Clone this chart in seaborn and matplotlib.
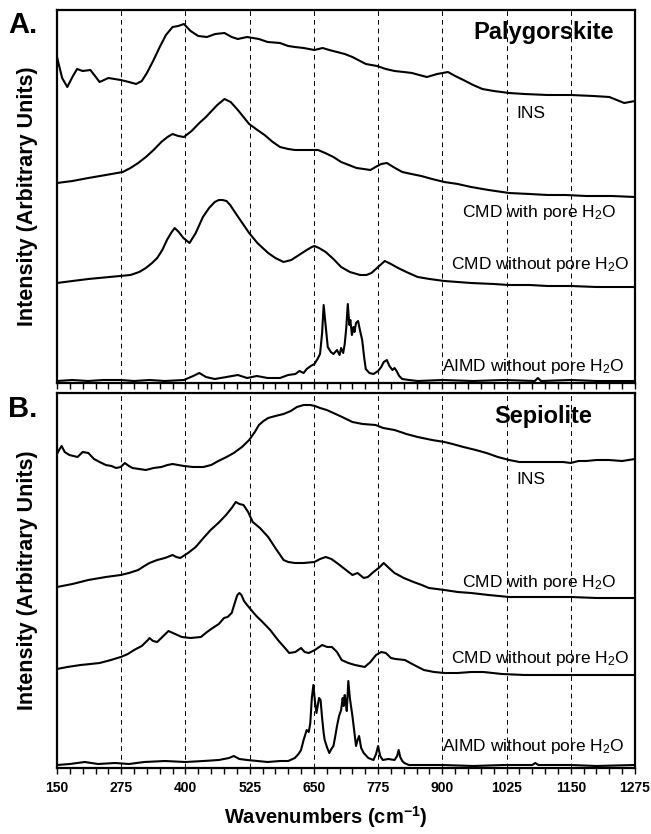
import matplotlib
matplotlib.use("Agg")
import matplotlib.pyplot as plt
import seaborn as sns
import pandas as pd
from matplotlib.ticker import MultipleLocator, FixedLocator

# ---------------- data (wavenumber, arbitrary offset intensity) ----------------
x_ticks = [150, 275, 400, 525, 650, 775, 900, 1025, 1150, 1275]

# Panel A: Palygorskite
pal_ins_x = [150, 160, 170, 180, 189, 200, 215, 233, 250, 274, 290, 304, 315, 325, 338, 350, 362, 375, 386, 397, 410, 425, 442, 458, 476, 490, 502, 520, 543, 560, 584, 600, 613, 630, 651, 667, 680, 695, 710, 725, 740, 751, 773, 790, 807, 825, 841, 855, 870, 890, 911, 925, 941, 960, 978, 1000, 1030, 1060, 1105, 1150, 1194, 1225, 1254, 1275]
pal_ins_y = [326, 305, 296, 306, 314, 312, 313, 301, 305, 303, 301, 299, 302, 310, 323, 336, 348, 356, 357, 359, 352, 347, 346, 349, 350, 346, 344, 346, 344, 341, 340, 337, 336, 335, 333, 335, 333, 331, 329, 326, 322, 319, 317, 314, 312, 311, 310, 308, 306, 309, 311, 307, 303, 298, 294, 292, 290, 289, 288, 288, 287, 286, 280, 282]

pal_cmdw_x = [150, 180, 211, 245, 278, 293, 308, 323, 338, 353, 365, 375, 386, 397, 412, 427, 440, 449, 462, 476, 488, 502, 513, 524, 540, 554, 570, 584, 600, 613, 635, 658, 672, 688, 703, 718, 733, 747, 760, 770, 781, 792, 808, 822, 840, 859, 880, 904, 930, 956, 990, 1030, 1070, 1105, 1140, 1180, 1230, 1275]
pal_cmdw_y = [200, 202, 205, 208, 211, 215, 220, 226, 233, 241, 246, 249, 247, 246, 252, 260, 266, 271, 278, 284, 281, 273, 266, 259, 253, 248, 241, 236, 234, 233, 233, 233, 230, 226, 221, 218, 215, 214, 213, 216, 219, 220, 215, 211, 209, 207, 204, 201, 199, 196, 193, 190, 189, 188, 188, 187, 187, 186]

pal_cmdwo_x = [150, 180, 211, 252, 293, 310, 323, 335, 345, 355, 364, 372, 379, 387, 396, 408, 420, 434, 446, 457, 465, 472, 480, 487, 500, 512, 524, 540, 561, 575, 591, 606, 621, 636, 646, 651, 660, 673, 688, 703, 720, 740, 752, 762, 775, 788, 800, 814, 830, 852, 875, 904, 930, 956, 1000, 1030, 1070, 1105, 1150, 1200, 1275]
pal_cmdwo_y = [100, 102, 104, 106, 108, 111, 115, 120, 125, 133, 143, 150, 155, 151, 145, 140, 150, 166, 175, 181, 183, 183, 182, 178, 168, 159, 150, 140, 130, 125, 121, 123, 128, 133, 136, 137, 135, 131, 124, 116, 111, 108, 108, 110, 116, 122, 119, 115, 111, 106, 104, 102, 101, 100, 99, 98, 98, 97, 97, 96, 96]

pal_aimd_x = [150, 180, 210, 240, 274, 300, 330, 360, 397, 415, 427, 440, 457, 480, 502, 520, 539, 560, 584, 600, 614, 622, 630, 636, 644, 651, 657, 662, 666, 669, 672, 677, 683, 688, 695, 700, 703, 707, 710, 713, 716, 719, 721, 724, 727, 729, 732, 736, 740, 744, 748, 751, 758, 766, 775, 781, 786, 792, 797, 803, 807, 811, 816, 822, 835, 852, 900, 960, 1020, 1080, 1086, 1092, 1150, 1200, 1275]
pal_aimd_y = [2, 3, 2, 3, 3, 2, 3, 2, 3, 7, 10, 6, 4, 6, 8, 5, 7, 5, 5, 8, 9, 12, 10, 14, 17, 19, 24, 29, 50, 78, 62, 36, 31, 29, 33, 28, 35, 30, 39, 55, 79, 58, 63, 48, 56, 51, 60, 62, 52, 43, 25, 14, 10, 9, 12, 16, 21, 23, 17, 13, 15, 12, 7, 4, 3, 2, 3, 2, 3, 2, 5, 2, 3, 2, 2]

# Panel B: Sepiolite
sep_ins_x = [150, 154, 159, 165, 174, 190, 200, 211, 222, 233, 245, 256, 265, 274, 282, 290, 297, 310, 323, 338, 353, 365, 375, 386, 397, 415, 435, 450, 464, 480, 494, 510, 524, 535, 543, 552, 561, 575, 591, 605, 617, 630, 643, 652, 662, 675, 688, 705, 725, 745, 770, 785, 807, 830, 852, 880, 904, 920, 941, 965, 986, 1008, 1030, 1050, 1068, 1100, 1135, 1150, 1165, 1180, 1200, 1224, 1250, 1275]
sep_ins_y = [314, 318, 322, 316, 313, 311, 316, 315, 309, 306, 303, 302, 300, 301, 305, 302, 300, 299, 298, 300, 301, 303, 304, 303, 302, 301, 301, 303, 307, 311, 315, 321, 328, 336, 343, 347, 350, 352, 354, 357, 361, 363, 363, 362, 360, 358, 355, 351, 346, 344, 343, 340, 338, 334, 331, 328, 326, 324, 321, 318, 315, 311, 308, 306, 306, 306, 306, 305, 307, 307, 308, 308, 307, 309]

sep_cmdw_x = [150, 180, 211, 245, 274, 290, 308, 320, 330, 345, 360, 375, 382, 390, 405, 420, 435, 449, 464, 479, 490, 498, 505, 513, 522, 531, 545, 561, 575, 591, 600, 613, 630, 651, 662, 673, 684, 695, 710, 725, 735, 747, 755, 766, 776, 786, 796, 807, 825, 844, 860, 874, 904, 930, 956, 990, 1030, 1070, 1105, 1150, 1200, 1275]
sep_cmdw_y = [181, 184, 188, 191, 193, 195, 198, 202, 205, 208, 210, 213, 211, 210, 215, 221, 230, 238, 245, 253, 260, 266, 264, 263, 256, 246, 240, 231, 220, 208, 206, 205, 205, 206, 209, 211, 209, 205, 199, 193, 195, 190, 191, 196, 200, 205, 200, 195, 190, 186, 183, 180, 178, 176, 175, 173, 171, 171, 171, 171, 170, 170]

sep_cmdwo_x = [150, 170, 196, 215, 233, 255, 274, 288, 300, 315, 327, 330, 337, 345, 355, 367, 380, 393, 410, 430, 442, 453, 465, 475, 482, 490, 496, 501, 505, 509, 514, 520, 528, 538, 550, 565, 580, 592, 602, 614, 625, 632, 640, 652, 666, 676, 685, 695, 704, 717, 730, 749, 760, 771, 781, 790, 800, 809, 827, 845, 864, 884, 904, 930, 956, 980, 1016, 1060, 1105, 1180, 1275]
sep_cmdwo_y = [99, 101, 103, 104, 105, 108, 111, 114, 118, 122, 128, 130, 127, 126, 131, 137, 134, 131, 130, 131, 136, 140, 144, 150, 151, 155, 165, 173, 175, 173, 167, 163, 158, 152, 146, 138, 128, 121, 115, 116, 120, 116, 115, 118, 123, 121, 121, 116, 108, 105, 103, 101, 106, 113, 116, 115, 110, 109, 108, 103, 98, 96, 95, 95, 96, 96, 94, 93, 93, 93, 93]

sep_aimd_x = [150, 175, 204, 230, 263, 290, 320, 360, 400, 435, 465, 485, 494, 505, 520, 540, 560, 584, 600, 613, 620, 625, 630, 636, 640, 643, 646, 649, 652, 655, 660, 663, 666, 669, 671, 676, 680, 684, 688, 691, 695, 699, 703, 706, 708, 710, 712, 714, 717, 720, 725, 729, 732, 735, 738, 742, 747, 756, 766, 771, 775, 779, 784, 795, 807, 812, 815, 818, 822, 826, 835, 844, 900, 960, 1020, 1075, 1081, 1087, 1150, 1200, 1275]
sep_aimd_y = [3, 4, 6, 4, 5, 4, 6, 7, 6, 7, 8, 10, 12, 9, 8, 7, 6, 7, 7, 10, 14, 18, 28, 38, 36, 45, 70, 83, 67, 55, 70, 68, 50, 35, 28, 20, 15, 19, 22, 30, 42, 52, 58, 70, 62, 73, 66, 57, 87, 70, 52, 35, 22, 28, 32, 20, 15, 10, 8, 14, 22, 12, 8, 9, 8, 12, 18, 11, 7, 5, 3, 3, 3, 2, 3, 3, 5, 3, 3, 2, 3]

curve_names = ["INS", "CMD with pore H$_2$O", "CMD without pore H$_2$O", "AIMD without pore H$_2$O"]

# ---------------- styling ----------------
sns.set_style("white")
plt.rcParams["font.family"] = ["Liberation Sans", "DejaVu Sans"]
plt.rcParams["mathtext.fontset"] = "custom"
plt.rcParams["mathtext.rm"] = "Liberation Sans"
plt.rcParams["mathtext.it"] = "Liberation Sans:italic"
plt.rcParams["mathtext.bf"] = "Liberation Sans:bold"
plt.rcParams["text.color"] = "black"
plt.rcParams["axes.labelcolor"] = "black"
plt.rcParams["xtick.color"] = "black"
plt.rcParams["ytick.color"] = "black"

fig = plt.figure(figsize=(6.51, 8.34), dpi=100)
ax_a = fig.add_axes([57 / 651, 1 - 383 / 834, 578 / 651, 373 / 834])
ax_b = fig.add_axes([57 / 651, 1 - 768 / 834, 578 / 651, 375 / 834])

panels = [
    (ax_a, [(pal_ins_x, pal_ins_y), (pal_cmdw_x, pal_cmdw_y), (pal_cmdwo_x, pal_cmdwo_y), (pal_aimd_x, pal_aimd_y)],
     373, "Palygorskite", 351, [(1073, 270, "center"), (1239, 170, "right"), (1265, 119, "right"), (1254, 17, "right")]),
    (ax_b, [(sep_ins_x, sep_ins_y), (sep_cmdw_x, sep_cmdw_y), (sep_cmdwo_x, sep_cmdwo_y), (sep_aimd_x, sep_aimd_y)],
     375, "Sepiolite", 352, [(1073, 289, "center"), (1239, 186, "right"), (1265, 110, "right"), (1254, 22, "right")]),
]

for ax, curves, ytop, title, ty, labpos in panels:
    for gx in x_ticks[1:-1]:
        ax.axvline(gx, color="black", lw=0.7, ls=(0, (5, 4)), zorder=1)
    for (cx, cy) in curves:
        df = pd.DataFrame({"wn": cx, "I": cy})
        sns.lineplot(data=df, x="wn", y="I", ax=ax, color="black", lw=1.5,
                     estimator=None, sort=False, zorder=3)
    for (lx, ly, ha), name in zip(labpos, curve_names):
        ax.text(lx, ly, name, ha=ha, va="center", fontsize=12.5, color="black", zorder=4)
    ax.text(1097, ty, title, ha="center", va="center", fontsize=17, fontweight="bold", color="black", zorder=4)
    ax.set_xlim(150, 1275)
    ax.set_ylim(0, ytop)
    ax.set_yticks([])
    ax.set_ylabel("")
    ax.set_xlabel("")
    ax.xaxis.set_major_locator(FixedLocator(x_ticks))
    ax.xaxis.set_minor_locator(MultipleLocator(25))
    ax.tick_params(axis="x", which="both", direction="out", length=4, width=1.0, bottom=True, top=False,
                   colors="black")
    for s in ax.spines.values():
        s.set_linewidth(1.6)
        s.set_color("black")

ax_a.tick_params(axis="x", labelbottom=False)
for lab in ax_b.get_xticklabels():
    lab.set_fontweight("bold")
    lab.set_fontsize(10)
    lab.set_color("black")
ax_b.tick_params(axis="x", pad=5)

fig.text(0.5, 1 - 817 / 834, r"Wavenumbers (cm$^{\mathbf{-1}}$)", ha="center", va="center",
         fontsize=14.5, fontweight="bold", color="black")

for yc in (196, 580):
    fig.text(28 / 651, 1 - yc / 834, "Intensity (Arbitrary Units)", rotation=90, ha="center", va="center",
             fontsize=15.5, fontweight="bold", color="black")

fig.text(8 / 651, 1 - 25 / 834, "A.", ha="left", va="center", fontsize=21, fontweight="heavy", color="black")
fig.text(8 / 651, 1 - 409 / 834, "B.", ha="left", va="center", fontsize=21, fontweight="heavy", color="black")

fig.savefig("out.png", dpi=100)
